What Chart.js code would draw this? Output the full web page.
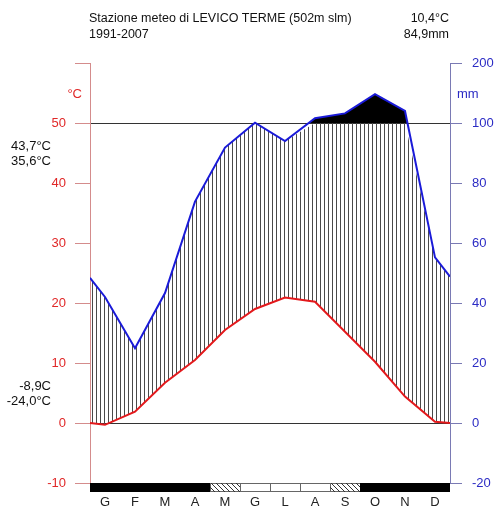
<!DOCTYPE html>
<html>
<head>
<meta charset="utf-8">
<script src="https://cdn.jsdelivr.net/npm/chart.js@4/dist/chart.umd.min.js"></script>
<style>
  html, body { margin: 0; padding: 0; background: #fff; }
  canvas { display: block; }
</style>
</head>
<body>
<canvas id="climogram" width="494" height="506"></canvas>
<script>
// Walter-Lieth climate diagram, Levico Terme 1991-2007
const months = ['G', 'F', 'M', 'A', 'M', 'G', 'L', 'A', 'S', 'O', 'N', 'D'];
const tempC = [-0.3, 1.9, 6.7, 10.5, 15.5, 19.0, 20.9, 20.2, 15.2, 10.2, 4.4, 0.2];
const precipMm = [42.0, 24.9, 43.3, 73.8, 91.8, 100.5, 94.0, 107.8, 116.0, 148.0, 120.0, 55.2];
const tempEdge = [0.0, 0.0];      // curve ends at the left / right border
const precipEdge = [48.4, 48.8];
// 2 = certain frost, 1 = probable frost, 0 = no frost
const frostClass = [2, 2, 2, 2, 1, 0, 0, 0, 1, 2, 2, 2];
const tempTicks = [-10, 0, 10, 20, 30, 40, 50, 60];

const titleLines = ['Stazione meteo di LEVICO TERME (502m slm)', '1991-2007'];
const meanLines = ['10,4°C', '84,9mm'];
const maxLines = ['43,7°C', '35,6°C'];
const minLines = ['-8,9C', '-24,0°C'];

const FONT = '"Liberation Sans", Arial, sans-serif';

// 20 mm per 10 °C up to 100 mm, then compressed 10x
function mmToScale(p) {
  return p <= 100 ? p / 2 : 50 + (p - 100) / 10;
}
function scaleToMm(v) {
  return v <= 50 ? v * 2 : 100 + (v - 50) * 10;
}

function series(vals, edges, fn) {
  const pts = [{ x: 0, y: fn(edges[0]) }];
  vals.forEach((v, i) => pts.push({ x: i + 0.5, y: fn(v) }));
  pts.push({ x: 12, y: fn(edges[1]) });
  return pts;
}

const tempPts = series(tempC, tempEdge, v => v);
const precipPts = series(precipMm, precipEdge, mmToScale);
const humidPts = series(precipMm, precipEdge, p => Math.min(mmToScale(p), 50));

// vertical hatching for the humid period
const pat = document.createElement('canvas');
pat.width = 4; pat.height = 4;
const pctx = pat.getContext('2d');
pctx.fillStyle = '#4a4a4a';
pctx.fillRect(0, 0, 1, 4);
const hatch = pctx.createPattern(pat, 'repeat');

const decorations = {
  id: 'decorations',
  afterDraw(chart) {
    const ctx = chart.ctx;
    const x = chart.scales.x;
    const area = chart.chartArea;
    ctx.save();

    // header
    ctx.fillStyle = '#111';
    ctx.font = '12.5px ' + FONT;
    ctx.textBaseline = 'middle';
    ctx.textAlign = 'left';
    ctx.fillText(titleLines[0], 89, 19);
    ctx.fillText(titleLines[1], 89, 35);
    ctx.textAlign = 'right';
    ctx.fillText(meanLines[0], 449, 19);
    ctx.fillText(meanLines[1], 449, 35);

    // extremes on the left
    ctx.font = '13px ' + FONT;
    ctx.fillText(maxLines[0], 51, 146);
    ctx.fillText(maxLines[1], 51, 161);
    ctx.fillText(minLines[0], 51, 386);
    ctx.fillText(minLines[1], 51, 401);

    // axis units
    ctx.fillStyle = '#e02828';
    ctx.fillText('°C', 82, 94);
    ctx.fillStyle = '#2b2bc4';
    ctx.textAlign = 'left';
    ctx.fillText('mm', 457, 94);

    // frost bar under the plot
    const top = area.bottom, h = 9;
    frostClass.forEach((c, i) => {
      const x0 = x.getPixelForValue(i), x1 = x.getPixelForValue(i + 1);
      if (c === 2) {
        ctx.fillStyle = '#000';
        ctx.fillRect(x0, top, x1 - x0, h);
        return;
      }
      ctx.strokeStyle = '#666';
      ctx.lineWidth = 1;
      ctx.strokeRect(x0 + 0.5, top + 0.5, x1 - x0, h - 1);
      if (c === 1) {
        ctx.save();
        ctx.beginPath();
        ctx.rect(x0, top, x1 - x0, h);
        ctx.clip();
        ctx.strokeStyle = '#333';
        ctx.beginPath();
        for (let sx = x0 - h; sx < x1 + h; sx += 5) {
          ctx.moveTo(sx, top);
          ctx.lineTo(sx + h, top + h);
        }
        ctx.stroke();
        ctx.restore();
      }
    });
    ctx.restore();
  }
};

new Chart(document.getElementById('climogram'), {
  type: 'line',
  data: {
    datasets: [
      {
        label: 'Temperatura',
        data: tempPts,
        borderColor: '#e3191c',
        borderWidth: 2,
        pointRadius: 0,
        fill: false
      },
      {
        label: 'Precipitazioni',
        data: precipPts,
        borderColor: '#1a1ad8',
        borderWidth: 2,
        pointRadius: 0,
        fill: { target: { value: 50 }, above: '#000', below: 'rgba(0,0,0,0)' }
      },
      {
        label: 'Periodo umido',
        data: humidPts,
        borderWidth: 0,
        borderColor: 'rgba(0,0,0,0)',
        pointRadius: 0,
        fill: { target: 0, above: hatch, below: 'rgba(0,0,0,0)' }
      }
    ]
  },
  options: {
    responsive: false,
    animation: false,
    devicePixelRatio: 1,
    layout: { padding: { top: 63, left: 0, right: 0, bottom: 0 } },
    plugins: {
      legend: { display: false },
      tooltip: { enabled: false }
    },
    scales: {
      x: {
        type: 'linear',
        min: 0,
        max: 12,
        afterBuildTicks: axis => { axis.ticks = months.map((m, i) => ({ value: i + 0.5 })); },
        afterFit: axis => { axis.height = 23; },
        grid: { display: false },
        border: { display: false },
        ticks: {
          autoSkip: false,
          maxRotation: 0,
          padding: 4,
          color: '#222',
          font: { family: FONT, size: 13 },
          callback: v => months[Math.floor(v)]
        }
      },
      y: {
        position: 'left',
        min: -10,
        max: 60,
        afterBuildTicks: axis => { axis.ticks = tempTicks.map(v => ({ value: v })); },
        afterFit: axis => { axis.width = 90; },
        border: { color: '#d48c8c', width: 1 },
        grid: {
          drawOnChartArea: true,
          color: c => (c.tick && (c.tick.value === 0 || c.tick.value === 50)) ? '#333' : 'rgba(0,0,0,0)',
          tickColor: '#d48c8c',
          tickLength: 15
        },
        ticks: {
          padding: 9,
          color: '#e02828',
          font: { family: FONT, size: 13 },
          callback: v => v === 60 ? '' : v
        }
      },
      y2: {
        position: 'right',
        min: -10,
        max: 60,
        afterBuildTicks: axis => { axis.ticks = tempTicks.map(v => ({ value: v })); },
        afterFit: axis => { axis.width = 44; },
        border: { color: '#7a7ab4', width: 1 },
        grid: { drawOnChartArea: false, tickColor: '#7a7ab4', tickLength: 12 },
        ticks: {
          padding: 10,
          color: '#2b2bc4',
          font: { family: FONT, size: 13 },
          callback: v => scaleToMm(v)
        }
      }
    }
  },
  plugins: [decorations]
});
</script>
</body>
</html>
